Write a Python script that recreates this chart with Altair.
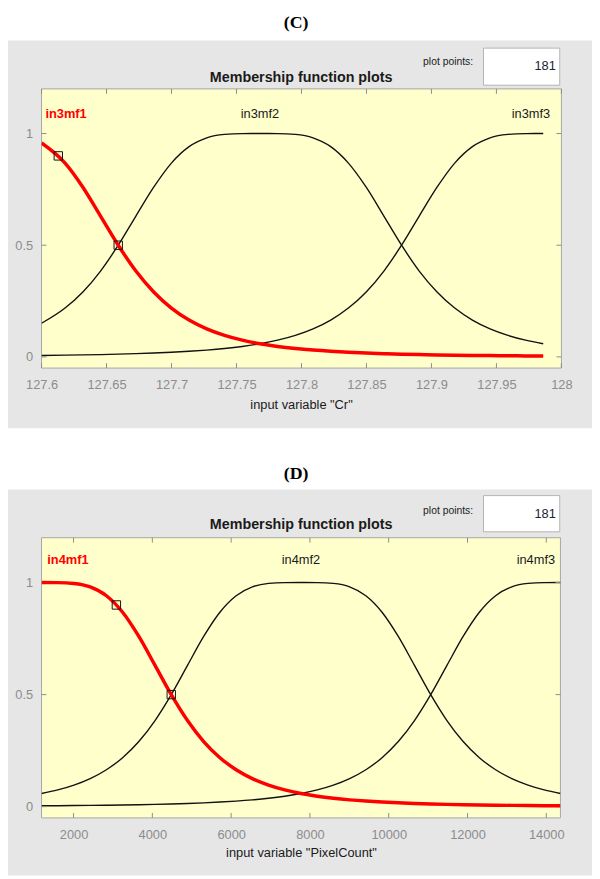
import altair as alt
import pandas as pd

# ---------------- Panel C : input variable "Cr" ----------------
c_x = [127.6, 127.6181, 127.6318, 127.6454, 127.659, 127.6726, 127.6863, 127.6999,
       127.7135, 127.7271, 127.7408, 127.7544, 127.768, 127.7816, 127.7953, 127.8089,
       127.8225, 127.8361, 127.8498, 127.8634, 127.877, 127.8906, 127.9043, 127.9179,
       127.9315, 127.9451, 127.9588, 127.9724, 127.986]
c_mf1 = [0.9576, 0.86761, 0.75964, 0.63045, 0.5, 0.38435, 0.29057, 0.21861, 0.16495,
         0.12542, 0.09635, 0.07485, 0.05882, 0.04675, 0.03755, 0.03047, 0.02496, 0.02063,
         0.01718, 0.01443, 0.0122, 0.01038, 0.00888, 0.00765, 0.00662, 0.00576, 0.00503,
         0.00442, 0.00389]
c_mf2 = [0.1505, 0.21861, 0.29057, 0.38435, 0.5, 0.63045, 0.75964, 0.86761, 0.94118,
         0.98061, 0.99611, 0.99976, 1.0, 0.99976, 0.99611, 0.98061, 0.94118, 0.86761,
         0.75964, 0.63045, 0.5, 0.38435, 0.29057, 0.21861, 0.16495, 0.12542, 0.09635,
         0.07485, 0.05882]
c_mf3 = [0.0063, 0.00765, 0.00888, 0.01038, 0.0122, 0.01443, 0.01718, 0.02063, 0.02496,
         0.03047, 0.03755, 0.04675, 0.05882, 0.07485, 0.09635, 0.12542, 0.16495, 0.21861,
         0.29057, 0.38435, 0.5, 0.63045, 0.75964, 0.86761, 0.94118, 0.98061, 0.99611,
         0.99976, 1.0]
c_mark_x = [127.6129, 127.659]
c_mark_y = [0.9, 0.5]
c_xticks = [127.6, 127.65, 127.7, 127.75, 127.8, 127.85, 127.9, 127.95, 128.0]
c_labels = ["in3mf1", "in3mf2", "in3mf3"]
c_label_x = [127.603, 127.768, 127.9914]

# ---------------- Panel D : input variable "PixelCount" ----------------
d_x = [1187, 1599, 2010, 2422, 2834, 3245, 3657, 4068, 4480, 4892, 5303, 5715, 6127,
       6538, 6950, 7361, 7773, 8185, 8596, 9008, 9420, 9831, 10243, 10654, 11066, 11478,
       11889, 12301, 12713, 13124, 13536, 13947, 14359]
d_mf1 = [1.0, 0.99976, 0.99611, 0.98061, 0.94118, 0.86761, 0.75964, 0.63045, 0.5,
         0.38435, 0.29057, 0.21861, 0.16495, 0.12542, 0.09635, 0.07485, 0.05882, 0.04675,
         0.03755, 0.03047, 0.02496, 0.02063, 0.01718, 0.01443, 0.0122, 0.01038, 0.00888,
         0.00765, 0.00662, 0.00576, 0.00503, 0.00442, 0.00389]
d_mf2 = [0.05882, 0.07485, 0.09635, 0.12542, 0.16495, 0.21861, 0.29057, 0.38435, 0.5,
         0.63045, 0.75964, 0.86761, 0.94118, 0.98061, 0.99611, 0.99976, 1.0, 0.99976,
         0.99611, 0.98061, 0.94118, 0.86761, 0.75964, 0.63045, 0.5, 0.38435, 0.29057,
         0.21861, 0.16495, 0.12542, 0.09635, 0.07485, 0.05882]
d_mf3 = [0.00389, 0.00442, 0.00503, 0.00576, 0.00662, 0.00765, 0.00888, 0.01038, 0.0122,
         0.01443, 0.01718, 0.02063, 0.02496, 0.03047, 0.03755, 0.04675, 0.05882, 0.07485,
         0.09635, 0.12542, 0.16495, 0.21861, 0.29057, 0.38435, 0.5, 0.63045, 0.75964,
         0.86761, 0.94118, 0.98061, 0.99611, 0.99976, 1.0]
d_mark_x = [3087, 4480]
d_mark_y = [0.9, 0.5]
d_xticks = [2000, 4000, 6000, 8000, 10000, 12000, 14000]
d_labels = ["in4mf1", "in4mf2", "in4mf3"]
d_label_x = [1332, 7773, 14224]

y_ticks = [0, 0.5, 1]
plot_points = "181"

FONT = "Liberation Sans"
GRAY_BG = "#e6e6e6"
YELLOW = "#ffffcc"
TICKC = "#8c8c8c"

one = pd.DataFrame({"a": [0]})


def vrect(x1, x2, y1, y2, fill, stroke=None):
    kw = {"fill": fill}
    if stroke:
        kw.update(stroke=stroke, strokeWidth=1)
    return alt.Chart(one).mark_rect(**kw).encode(
        x=alt.value(x1), x2=alt.value(x2), y=alt.value(y1), y2=alt.value(y2))


def vtext(txt, x, y, size, align="center", weight="normal", font=FONT, color="#1a1a1a"):
    return alt.Chart(one).mark_text(text=txt, align=align, baseline="middle",
                                    fontSize=size, fontWeight=weight, font=font,
                                    color=color).encode(x=alt.value(x), y=alt.value(y))


def panel(letter, xs_, mf1, mf2, mf3, mx, my, xticks, xdom, xfmt, labels, label_x,
          label_y, title_txt, W, H, row_top, gray_bot, row_bot, txt_y):
    xs = alt.Scale(domain=xdom, nice=False, zero=False)
    ys = alt.Scale(domain=[-0.05, 1.2], nice=False, zero=False)
    xaxis = alt.Axis(values=xticks, format=xfmt, ticks=False, tickSize=0, domain=False,
                     grid=False, labelFont=FONT, labelFontSize=13, labelColor=TICKC,
                     labelPadding=17, labelBaseline="middle", labelFlush=False,
                     labelOverlap=False, title=None, zindex=1)
    yaxis = alt.Axis(values=y_ticks, format="~g", ticks=False, tickSize=0, domain=False,
                     grid=False, labelFont=FONT, labelFontSize=13, labelColor=TICKC,
                     labelPadding=9, title=None, zindex=1)
    X = lambda: alt.X("x:Q", scale=xs, axis=xaxis)
    Y = lambda: alt.Y("y:Q", scale=ys, axis=yaxis)

    black = pd.DataFrame({"x": xs_ + xs_, "y": mf2 + mf3,
                          "mf": ["mf2"] * len(xs_) + ["mf3"] * len(xs_)})
    red = pd.DataFrame({"x": xs_, "y": mf1})
    marks = pd.DataFrame({"x": mx, "y": my})
    xt = pd.DataFrame({"x": xticks})
    yt = pd.DataFrame({"y": y_ticks})

    layers = [
        vrect(-34, 558, row_top, -49, "white"),
        vrect(-34, 558, -49, gray_bot, GRAY_BG),
        vrect(-34, 558, gray_bot, row_bot, "white"),
        vrect(448, 525.3, txt_y["box0"], txt_y["box1"], "white", "#b4b4b4"),
        vrect(0, W, 0, H, YELLOW, "#a6a6a6"),
    ]
    layers.append(alt.Chart(black).mark_line(color="#111111", strokeWidth=1.4,
                                             interpolate="monotone", clip=True).encode(
        x=X(), y=Y(), detail="mf:N"))
    # inward tick marks on all four sides
    for y1, y2 in [(0, 5), (H - 5, H)]:
        layers.append(alt.Chart(xt).mark_rule(color=TICKC, strokeWidth=1).encode(
            x=X(), y=alt.value(y1), y2=alt.value(y2)))
    for x1, x2 in [(0, 5), (W - 5, W)]:
        layers.append(alt.Chart(yt).mark_rule(color=TICKC, strokeWidth=1).encode(
            y=Y(), x=alt.value(x1), x2=alt.value(x2)))

    layers.append(alt.Chart(red).mark_line(color="#ff0000", strokeWidth=3.5,
                                           interpolate="monotone", clip=True).encode(
        x=X(), y=Y()))
    layers.append(alt.Chart(marks).mark_point(shape="square", filled=False, size=72,
                                              stroke="#111111", strokeWidth=1,
                                              opacity=1).encode(x=X(), y=Y()))

    lab = pd.DataFrame({"x": label_x, "y": [label_y] * 3, "t": labels})
    specs = [(0, "left", "bold", "#ff0000"), (1, "center", "normal", "#1a1a1a"),
             (2, "right", "normal", "#1a1a1a")]
    for i, al, wt, col in specs:
        layers.append(alt.Chart(lab.iloc[[i]]).mark_text(
            align=al, baseline="middle", font=FONT, fontSize=13, fontWeight=wt,
            color=col).encode(x=X(), y=Y(), text="t:N"))

    layers += [
        vtext(letter, 258, txt_y["letter"], 18, weight="bold", font="Liberation Serif",
              color="black"),
        vtext("plot points:", 437.5, txt_y["pp"], 10.5, align="right", color="#222222"),
        vtext(plot_points, 521.3, txt_y["num"], 13, align="right", color="#222233"),
        vtext("Membership function plots", 263.2, txt_y["title"], 14.5, weight="bold",
              color="#1a1a1a"),
        vtext(title_txt, 263.5, H + txt_y["xtitle"], 13, color="#1a1a1a"),
    ]
    return alt.layer(*layers).properties(width=W, height=H)


panel_c = panel("(C)", c_x, c_mf1, c_mf2, c_mf3, c_mark_x, c_mark_y, c_xticks,
                [127.6, 128.0], "~g", c_labels, c_label_x, 1.088,
                'input variable "Cr"', 527, 283, -75, 344.3, 360.5,
                {"letter": -66.5, "pp": -27.5, "num": -22.7, "title": -11.3,
                 "box0": -41.3, "box1": -3.7, "xtitle": 37.3})

panel_d = panel("(D)", d_x, d_mf1, d_mf2, d_mf3, d_mark_x, d_mark_y, d_xticks,
                [1187, 14359], "d", d_labels, d_label_x, 1.102,
                'input variable "PixelCount"', 526, 284, -93.2, 342.3, 342.3,
                {"letter": -64.4, "pp": -27.4, "num": -24.4, "title": -12.4,
                 "box0": -42.7, "box1": -6, "xtitle": 36})

chart = alt.vconcat(panel_c, panel_d, spacing=0).properties(
    padding=0, background="white").configure_view(stroke=None)

chart.save("out.html", embed_options={"renderer": "svg", "actions": False})
